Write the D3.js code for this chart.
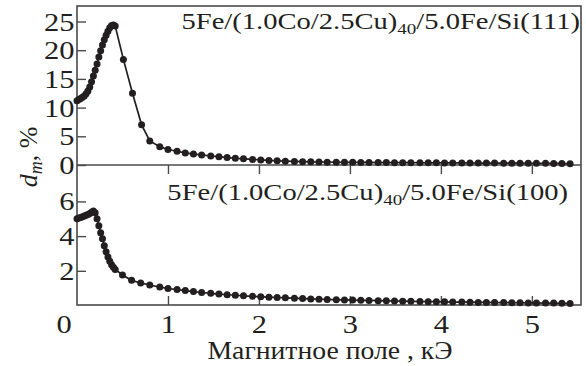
<!DOCTYPE html>
<html><head><meta charset="utf-8">
<script src="https://cdn.jsdelivr.net/npm/d3@7"></script>
<style>
html,body{margin:0;padding:0;background:#fff;}
svg{display:block;}
text{font-family:"Liberation Serif","DejaVu Serif",serif;fill:#231f20;}
</style></head>
<body>
<svg id="chart" width="586" height="366"></svg>
<script>
// ---- data ----
const fieldUpper = [0.00,0.02,0.04,0.06,0.08,0.10,0.12,0.14,0.16,0.18,0.20,0.22,0.24,0.26,0.28,0.30,0.32,0.34,0.36,0.38,0.40,0.42,
  0.51,0.61,0.71,0.80,
  0.91,1.00,1.10,1.19,1.28,1.37,1.47,1.56,1.65,1.74,1.83,1.93,2.02,2.11,2.20,2.29,2.39,2.48,2.57,2.66,
  2.75,2.85,2.94,3.03,3.12,3.21,3.31,3.40,3.49,3.58,3.67,3.77,3.86,3.95,4.04,4.13,4.23,4.32,4.41,4.50,
  4.59,4.69,4.78,4.87,4.96,5.05,5.15,5.24,5.33,5.42];
const dmUpper = [11.2,11.4,11.6,11.8,12.0,12.4,12.9,13.6,14.5,15.5,16.5,17.6,18.8,19.9,20.9,21.8,22.6,23.3,23.9,24.3,24.4,24.2,
  18.4,12.5,7.0,4.2,
  3.2,2.7,2.4,2.1,1.9,1.75,1.57,1.45,1.3,1.18,1.07,0.97,0.88,0.8,0.72,0.66,0.62,0.58,0.55,0.52,
  0.5,0.48,0.47,0.46,0.45,0.44,0.43,0.42,0.41,0.4,0.4,0.39,0.38,0.38,0.37,0.36,0.36,0.35,0.34,0.34,
  0.33,0.32,0.32,0.31,0.3,0.3,0.29,0.28,0.27,0.22];
const fieldLower = [0.00,0.02,0.04,0.06,0.08,0.10,0.12,0.14,0.16,0.18,0.20,0.22,0.24,0.26,0.28,0.30,0.32,0.34,0.36,0.38,0.40,0.42,
  0.50,0.60,0.70,0.80,
  0.91,1.00,1.10,1.19,1.28,1.37,1.47,1.56,1.65,1.74,1.83,1.93,2.02,2.11,2.20,2.29,2.39,2.48,2.57,2.66,
  2.75,2.85,2.94,3.03,3.12,3.21,3.31,3.40,3.49,3.58,3.67,3.77,3.86,3.95,4.04,4.13,4.23,4.32,4.41,4.50,
  4.59,4.69,4.78,4.87,4.96,5.05,5.15,5.24,5.33,5.42];
const dmLower = [5.0,5.05,5.08,5.12,5.16,5.2,5.25,5.3,5.38,5.45,5.35,5.0,4.6,4.2,3.85,3.45,3.1,2.8,2.55,2.35,2.2,2.08,
  1.76,1.45,1.3,1.18,
  1.06,0.98,0.92,0.86,0.8,0.75,0.7,0.66,0.62,0.59,0.56,0.53,0.5,0.48,0.46,0.44,0.42,0.4,0.38,0.36,
  0.35,0.33,0.32,0.31,0.3,0.29,0.28,0.27,0.26,0.25,0.24,0.23,0.22,0.22,0.21,0.2,0.2,0.19,0.18,0.18,
  0.17,0.17,0.16,0.16,0.15,0.15,0.14,0.14,0.13,0.12];
const xTicks = [0,1,2,3,4,5];
const yTicksUpper = [0,5,10,15,20,25];
const yTicksLower = [2,4,6];
const labelUpper = ["5Fe/(1.0Co/2.5Cu)", "40", "/5.0Fe/Si(111)"];
const labelLower = ["5Fe/(1.0Co/2.5Cu)", "40", "/5.0Fe/Si(100)"];
const xTitle = "Магнитное поле , кЭ";

// ---- layout ----
const L = 77, R = 581, T = 6, MID = 165, B = 305;
const ink = "#231f20", frame = "#4a4a4a";
const SX = 1.22, SXL = 1.27;

const svg = d3.select("#chart");
const x = d3.scaleLinear().domain([0, 5.54]).range([L, R]);
const yU = d3.scaleLinear().domain([0, 27.7]).range([MID, T]);
const yL = d3.scaleLinear().domain([0, 8.1]).range([B + 0.5, MID]);

function styleAxis(g, fs) {
  g.select(".domain").remove();
  g.selectAll(".tick line").attr("stroke", frame).attr("stroke-width", 1.4);
  g.selectAll(".tick text").attr("fill", ink).attr("font-size", fs)
    .attr("font-family", '"Liberation Serif", serif');
}

// y axes
const gYU = svg.append("g").attr("transform", `translate(${L},0)`)
  .call(d3.axisLeft(yU).tickValues(yTicksUpper).tickSizeInner(-9).tickSizeOuter(0).tickPadding(2));
styleAxis(gYU, 25);
gYU.selectAll(".tick text").attr("transform", `scale(${SX},1)`).attr("dy", "0.34em");

const gYL = svg.append("g").attr("transform", `translate(${L},0)`)
  .call(d3.axisLeft(yL).tickValues(yTicksLower).tickSizeInner(-9).tickSizeOuter(0).tickPadding(2));
styleAxis(gYL, 25);
gYL.selectAll(".tick text").attr("transform", `scale(${SX},1)`).attr("dy", "0.34em");

// x axis bottom (ticks inward)
const gX = svg.append("g").attr("transform", `translate(0,${B})`)
  .call(d3.axisBottom(x).tickValues(xTicks).tickSizeInner(-9).tickSizeOuter(0).tickPadding(10).tickFormat(d3.format("d")));
styleAxis(gX, 25);
gX.selectAll(".tick text").attr("transform", `scale(${SX},1)`);
gX.selectAll(".tick").filter(d => d === 0).select("line").remove();
gX.selectAll(".tick").filter(d => d === 0).select("text").attr("x", -11);

// x ticks at shared border, pointing down into lower panel
const gXM = svg.append("g").attr("transform", `translate(0,${MID})`)
  .call(d3.axisTop(x).tickValues(xTicks.filter(d => d > 0)).tickSizeInner(-9).tickSizeOuter(0).tickFormat(""));
styleAxis(gXM, 25);

// frame
const fr = svg.append("g").attr("stroke", frame).attr("stroke-width", 1.6).attr("fill", "none");
fr.append("rect").attr("x", L).attr("y", T).attr("width", R - L).attr("height", B - T);
fr.append("line").attr("x1", L).attr("x2", R).attr("y1", MID).attr("y2", MID);

// series
function drawSeries(xs, ys, yScale) {
  const pts = xs.map((v, i) => [v, ys[i]]);
  svg.append("path").datum(pts)
    .attr("fill", "none").attr("stroke", ink).attr("stroke-width", 1.7)
    .attr("d", d3.line().x(d => x(d[0])).y(d => yScale(d[1])));
  svg.append("g").selectAll("circle").data(pts).join("circle")
    .attr("cx", d => x(d[0])).attr("cy", d => yScale(d[1])).attr("r", 3.5).attr("fill", ink);
}
drawSeries(fieldUpper, dmUpper, yU);
drawSeries(fieldLower, dmLower, yL);

// panel labels
function panelLabel(parts, xr, yb) {
  const t = svg.append("text").attr("transform", `translate(${xr},${yb}) scale(${SXL},1)`)
    .attr("text-anchor", "end").attr("font-size", 22.5);
  t.append("tspan").text(parts[0]);
  t.append("tspan").attr("font-size", 15).attr("dy", 5).text(parts[1]);
  t.append("tspan").attr("dy", -5).text(parts[2]);
}
panelLabel(labelUpper, 580, 29);
panelLabel(labelLower, 568, 200);

// x title
svg.append("text").attr("x", 330).attr("y", 359).attr("text-anchor", "middle")
  .attr("font-size", 25).attr("textLength", 245).attr("lengthAdjust", "spacingAndGlyphs").text(xTitle);

// y title
const yt = svg.append("text").attr("transform", "translate(37,157) rotate(-90)")
  .attr("text-anchor", "middle").attr("font-size", 26);
yt.append("tspan").attr("font-style", "italic").text("d");
yt.append("tspan").attr("font-style", "italic").attr("font-size", 18).attr("dy", 5).text("m");
yt.append("tspan").attr("dy", -5).text(", %");
</script>
</body></html>
